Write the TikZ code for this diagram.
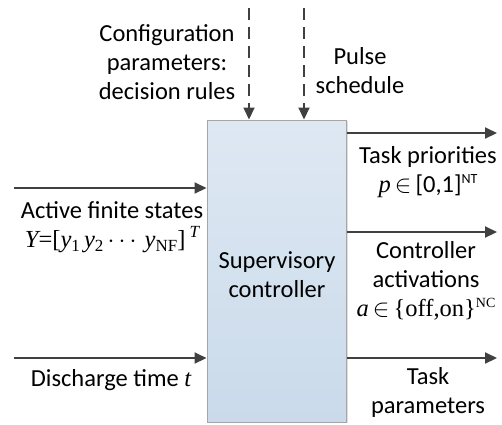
\documentclass[tikz,border=0pt]{standalone}
\usepackage{fontspec}
\setmainfont{Carlito}
\newfontfamily\mathserif{Liberation Serif}
\usetikzlibrary{arrows.meta,positioning,shadows}

\definecolor{arrowgray}{HTML}{404040}
\definecolor{boxtop}{HTML}{DEE8F3}
\definecolor{boxbottom}{HTML}{CADAEA}
\definecolor{boxline}{HTML}{A6A6A6}

\tikzset{
  >={Triangle[length=12pt,width=11pt]},
  every node/.append style={font=\fontsize{24.5}{29}\selectfont},
  flow/.style={->, line width=2pt, draw=arrowgray},
  cmd/.style={flow, dash pattern=on 12pt off 7pt},
  txt/.style={align=center, inner sep=0pt},
}
\newcommand{\vi}[1]{{\mathserif\itshape #1}}
\newcommand{\vr}[1]{{\mathserif #1}}
\newcommand{\idx}[1]{\raisebox{-0.35ex}[0pt][0pt]{\fontsize{17}{17}\selectfont\mathserif #1}}
\newcommand{\dimsup}[1]{\raisebox{0.8ex}[0pt][0pt]{\fontsize{14}{14}\selectfont #1}}

\begin{document}
\begin{tikzpicture}[x=1pt, y=-1pt]
\useasboundingbox (0,0) rectangle (502,424);

% Controller block
\node[draw=boxline, line width=1pt, top color=boxtop, bottom color=boxbottom,
      drop shadow={shadow xshift=2pt, shadow yshift=-1pt, opacity=0.25},
      minimum width=139pt, minimum height=302pt, inner sep=0pt] (ctrl) at (276.5,271) {};
\node[txt] (ctrltext) at (277,275) {Supervisory\\controller};

% Free ends of the signals
\coordinate (cfg)   at (249,8);
\coordinate (pulse) at (304,8);
\coordinate (inY)   at (14,188);
\coordinate (inT)   at (14,358);
\coordinate (outP)  at (497,133);
\coordinate (outA)  at (497,232);
\coordinate (outP2) at (497,358);

% Commands from above
\draw[cmd] (cfg) -- (cfg |- ctrl.north);
\draw[cmd] (pulse) -- (pulse |- ctrl.north);

% Inputs
\draw[flow] (inY) -- (inY -| ctrl.west);
\draw[flow] (inT) -- (inT -| ctrl.west);

% Outputs
\draw[flow] (outP -| ctrl.east) -- (outP);
\draw[flow] (outA -| ctrl.east) -- (outA);
\draw[flow] (outP2 -| ctrl.east) -- (outP2);

% Labels
\node[txt] (cfgtext) at (167,62) {Configuration\\parameters:\\decision rules};
\node[txt] (pulsetext) at (360,71) {Pulse\\schedule};
\node[txt] (ytext) at (112,227) {Active finite states\\
  \vi{Y}\vr{=[}\vi{y}\idx{1}\,\vi{y}\idx{2}\,\vr{$\cdots$}\,\,\vi{y}\idx{NF}\vr{]}\,\raisebox{0.8ex}[0pt][0pt]{\fontsize{17}{17}\selectfont\mathserif\itshape T}};
\node[txt] (ttext) at (111,380) {Discharge time \vi{t}};
\node[txt] (ptext) at (428,172) {Task priorities\\
  \vi{p}\,\vr{$\in$}\,[0,1]\dimsup{NT}};
\node[txt] (atext) at (426,281) {Controller\\activations\\
  \vi{a}\,\vr{$\in$}\,\vr{\{off,on\}}\dimsup{\mathserif NC}};
\node[txt] (tptext) at (428,392) {Task\\parameters};
\end{tikzpicture}
\end{document}
